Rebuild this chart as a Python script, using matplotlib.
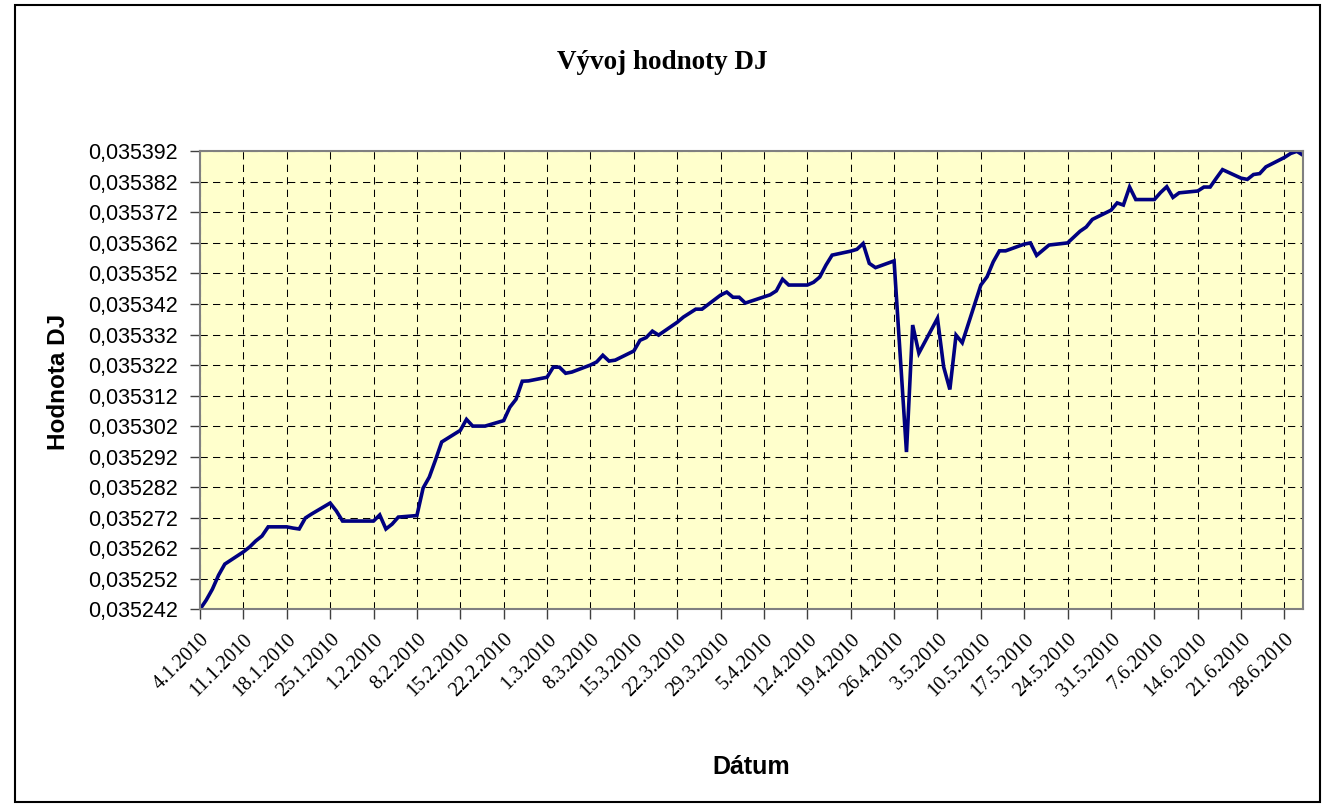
import matplotlib
matplotlib.use("Agg")
import matplotlib.pyplot as plt
import matplotlib.dates as mdates
from matplotlib.ticker import FuncFormatter, FixedLocator
from matplotlib.patches import Rectangle
import pandas as pd

# trading days (d.m.yyyy) and the value
dates = [
    "4.1.2010", "5.1.2010", "6.1.2010", "7.1.2010", "8.1.2010",
    "11.1.2010", "12.1.2010", "13.1.2010", "14.1.2010", "15.1.2010",
    "18.1.2010", "19.1.2010", "20.1.2010", "21.1.2010", "22.1.2010",
    "25.1.2010", "26.1.2010", "27.1.2010", "28.1.2010", "29.1.2010",
    "1.2.2010", "2.2.2010", "3.2.2010", "4.2.2010", "5.2.2010",
    "8.2.2010", "9.2.2010", "10.2.2010", "11.2.2010", "12.2.2010",
    "15.2.2010", "16.2.2010", "17.2.2010", "18.2.2010", "19.2.2010",
    "22.2.2010", "23.2.2010", "24.2.2010", "25.2.2010", "26.2.2010",
    "1.3.2010", "2.3.2010", "3.3.2010", "4.3.2010", "5.3.2010",
    "8.3.2010", "9.3.2010", "10.3.2010", "11.3.2010", "12.3.2010",
    "15.3.2010", "16.3.2010", "17.3.2010", "18.3.2010", "19.3.2010",
    "22.3.2010", "23.3.2010", "24.3.2010", "25.3.2010", "26.3.2010",
    "29.3.2010", "30.3.2010", "31.3.2010", "1.4.2010", "2.4.2010",
    "6.4.2010", "7.4.2010", "8.4.2010", "9.4.2010",
    "12.4.2010", "13.4.2010", "14.4.2010", "15.4.2010", "16.4.2010",
    "19.4.2010", "20.4.2010", "21.4.2010", "22.4.2010", "23.4.2010",
    "26.4.2010", "27.4.2010", "28.4.2010", "29.4.2010", "30.4.2010",
    "3.5.2010", "4.5.2010", "5.5.2010", "6.5.2010", "7.5.2010",
    "10.5.2010", "11.5.2010", "12.5.2010", "13.5.2010", "14.5.2010",
    "17.5.2010", "18.5.2010", "19.5.2010", "20.5.2010", "21.5.2010",
    "24.5.2010", "25.5.2010", "26.5.2010", "27.5.2010", "28.5.2010",
    "31.5.2010", "1.6.2010", "2.6.2010", "3.6.2010", "4.6.2010",
    "7.6.2010", "8.6.2010", "9.6.2010", "10.6.2010", "11.6.2010",
    "14.6.2010", "15.6.2010", "16.6.2010", "17.6.2010", "18.6.2010",
    "21.6.2010", "22.6.2010", "23.6.2010", "24.6.2010", "25.6.2010",
    "28.6.2010", "29.6.2010", "30.6.2010", "1.7.2010",
]
values = [
    0.0352420, 0.0352450, 0.0352486, 0.0352532, 0.0352568,
    0.0352608, 0.0352624, 0.0352644, 0.0352660, 0.0352690,
    0.0352690, 0.0352686, 0.0352683, 0.0352719, 0.0352732,
    0.0352768, 0.0352742, 0.0352709, 0.0352709, 0.0352709,
    0.0352709, 0.0352729, 0.0352683, 0.0352699, 0.0352722,
    0.0352727, 0.0352817, 0.0352853, 0.0352909, 0.0352968,
    0.0353006, 0.0353042, 0.0353020, 0.0353020, 0.0353020,
    0.0353038, 0.0353082, 0.0353108, 0.0353167, 0.0353168,
    0.0353180, 0.0353213, 0.0353213, 0.0353193, 0.0353197,
    0.0353220, 0.0353230, 0.0353252, 0.0353233, 0.0353236,
    0.0353266, 0.0353301, 0.0353310, 0.0353331, 0.0353318,
    0.0353360, 0.0353377, 0.0353390, 0.0353403, 0.0353403,
    0.0353449, 0.0353459, 0.0353442, 0.0353442, 0.0353423,
    0.0353450, 0.0353463, 0.0353501, 0.0353482,
    0.0353482, 0.0353491, 0.0353508, 0.0353547, 0.0353580,
    0.0353593, 0.0353599, 0.0353618, 0.0353553, 0.0353539,
    0.0353561, 0.0353249, 0.0352935, 0.0353351, 0.0353259,
    0.0353373, 0.0353214, 0.0353140, 0.0353318, 0.0353293,
    0.0353482, 0.0353509, 0.0353558, 0.0353594, 0.0353594,
    0.0353616, 0.0353620, 0.0353579, 0.0353596, 0.0353613,
    0.0353620, 0.0353639, 0.0353658, 0.0353672, 0.0353697,
    0.0353727, 0.0353751, 0.0353744, 0.0353803, 0.0353762,
    0.0353762, 0.0353785, 0.0353804, 0.0353769, 0.0353784,
    0.0353790, 0.0353803, 0.0353803, 0.0353832, 0.0353860,
    0.0353832, 0.0353828, 0.0353844, 0.0353847, 0.0353869,
    0.0353900, 0.0353913, 0.0353920, 0.0353907,
]
y_min, y_step, y_count = 0.035242, 0.00001, 16

title = "Vývoj hodnoty DJ"
x_title = "Dátum"
y_title = "Hodnota DJ"

dt = pd.to_datetime(dates, format="%d.%m.%Y")
y_ticks = [y_min + i * y_step for i in range(y_count)]

fig = plt.figure(figsize=(13.29, 8.07), dpi=100)
fig.patch.set_facecolor("white")
fig.patches.append(Rectangle((0.011, 0.006), 0.982, 0.988, transform=fig.transFigure,
                             fill=False, edgecolor="black", linewidth=1.5))

ax = fig.add_axes([0.1505, 0.245, 0.8300, 0.5675])
ax.set_facecolor("#FFFFCC")
ax.plot(dt, values, color="#000080", linewidth=2.6, solid_joinstyle="miter")

ax.set_xlim(dt[0], dt[-1])
ax.set_ylim(y_ticks[0], y_ticks[-1])

ax.xaxis.set_major_locator(mdates.WeekdayLocator(byweekday=mdates.MO, interval=1))
ax.xaxis.set_major_formatter(FuncFormatter(
    lambda x, pos: (lambda d: f"{d.day}.{d.month}.{d.year}")(mdates.num2date(x))))
ax.yaxis.set_major_locator(FixedLocator(y_ticks))
ax.yaxis.set_major_formatter(FuncFormatter(lambda v, pos: f"{v:.6f}".replace(".", ",")))

ax.grid(True, color="black", linestyle=(0, (7, 5)), linewidth=0.75)
ax.set_axisbelow(True)
for s in ax.spines.values():
    s.set_color("#808080")
    s.set_linewidth(1.5)

ax.tick_params(axis="both", direction="out", length=7, width=1, color="#404040")
ax.tick_params(axis="y", pad=9)
ax.tick_params(axis="x", pad=8)
for lab in ax.get_yticklabels():
    lab.set_fontfamily("Liberation Sans")
    lab.set_fontsize(15.5)
for lab in ax.get_xticklabels():
    lab.set_fontfamily("Liberation Serif")
    lab.set_fontsize(14.5)
    lab.set_rotation(45)
    lab.set_ha("right")
    lab.set_rotation_mode("anchor")

fig.text(0.498, 0.923, title, ha="center", va="center", fontsize=19.5,
         fontweight="bold", fontfamily="Liberation Serif")
fig.text(0.565, 0.0496, x_title, ha="center", va="center", fontsize=18,
         fontweight="bold", fontfamily="Liberation Sans")
fig.text(0.044, 0.527, y_title, ha="center", va="center", fontsize=17.5,
         fontweight="bold", fontfamily="Liberation Sans", rotation=90)

fig.savefig("out.png", dpi=100)
